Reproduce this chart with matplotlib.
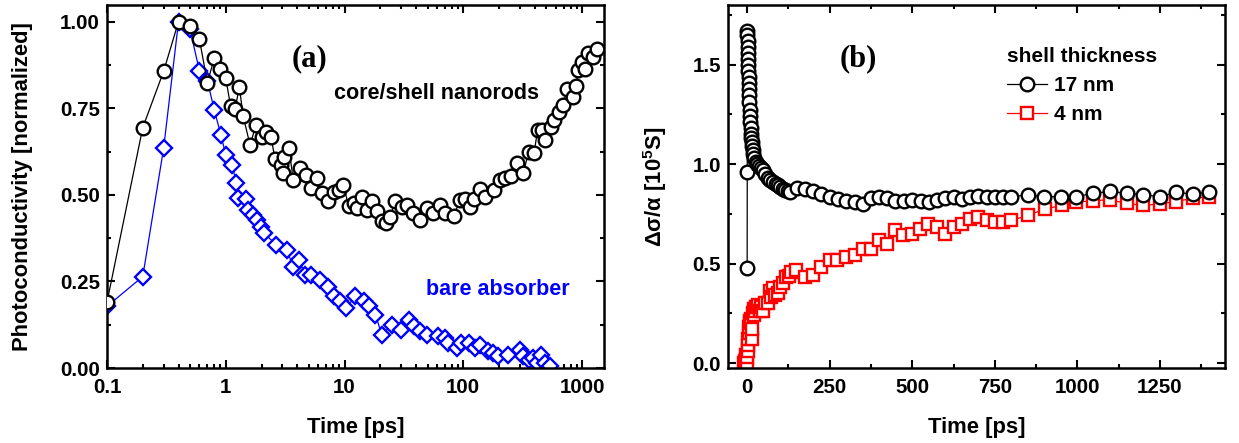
import matplotlib
matplotlib.use("Agg")
import matplotlib.pyplot as plt
from matplotlib.ticker import FixedLocator, MultipleLocator, LogLocator, NullFormatter

plt.rcParams['font.family'] = ['Liberation Sans', 'DejaVu Sans']
plt.rcParams['font.weight'] = 'bold'
plt.rcParams['mathtext.fontset'] = 'custom'
plt.rcParams['mathtext.rm'] = 'Liberation Sans:bold'
plt.rcParams['mathtext.bf'] = 'Liberation Sans:bold'
plt.rcParams['mathtext.default'] = 'bf'

# ---------------- data: panel (a) ----------------
t_core_shell = [0.1, 0.2, 0.3, 0.4, 0.5, 0.6, 0.7, 0.8, 0.9, 1.0, 1.1, 1.2, 1.3, 1.4, 1.6,
                1.8, 2.0, 2.2, 2.4, 2.6, 2.9, 3.05, 3.1, 3.4, 3.7, 4.2, 4.7, 5.2, 5.9, 6.4,
                7.3, 8.1, 8.9, 9.8, 10.8, 11.9, 12.7, 14, 15.4, 17, 18.7, 20.6, 22.4, 24.2,
                26.7, 30.3, 33.5, 38, 43.3, 49.3, 56, 64, 70, 83, 94, 104, 113, 124, 137, 153,
                180, 205, 225, 251, 282, 321, 354, 395, 422, 459, 490, 547, 576, 634, 689,
                750, 838, 894, 924, 995, 1064, 1122, 1232, 1340]
pc_core_shell = [0.19, 0.694, 0.857, 1.0, 0.987, 0.949, 0.824, 0.894, 0.862, 0.836, 0.755,
                 0.748, 0.812, 0.728, 0.644, 0.702, 0.668, 0.682, 0.668, 0.603, 0.586, 0.562,
                 0.61, 0.636, 0.543, 0.577, 0.556, 0.519, 0.548, 0.505, 0.481, 0.509, 0.514,
                 0.529, 0.468, 0.476, 0.461, 0.495, 0.457, 0.481, 0.452, 0.423, 0.42, 0.437,
                 0.481, 0.466, 0.471, 0.447, 0.428, 0.461, 0.447, 0.471, 0.447, 0.439, 0.485,
                 0.488, 0.466, 0.487, 0.516, 0.495, 0.514, 0.543, 0.548, 0.555, 0.591, 0.562,
                 0.625, 0.622, 0.687, 0.687, 0.659, 0.697, 0.716, 0.74, 0.759, 0.805, 0.783,
                 0.814, 0.86, 0.884, 0.862, 0.909, 0.899, 0.92]

t_bare = [0.1, 0.2, 0.3, 0.4, 0.5, 0.6, 0.7, 0.8, 0.91, 1.0, 1.13, 1.23, 1.27, 1.47, 1.55,
          1.7, 1.82, 1.97, 2.1, 2.66, 3.26, 3.7, 4.15, 4.65, 5.2, 6.2, 7.3, 8.1, 9.2, 10.3,
          12.3, 14.5, 16, 18.2, 20.6, 25.1, 29.8, 34.6, 38.3, 43.3, 49.3, 61.8, 70.4, 74.8,
          88.8, 94.8, 111, 126, 139, 163, 179, 197, 240, 300, 321, 354, 386, 418, 452, 490, 540]
pc_bare = [0.178, 0.264, 0.635, 1.0, 0.978, 0.858, 0.83, 0.745, 0.673, 0.615, 0.586, 0.534,
           0.49, 0.487, 0.457, 0.442, 0.428, 0.408, 0.389, 0.356, 0.341, 0.293, 0.312, 0.269,
           0.269, 0.255, 0.235, 0.207, 0.192, 0.173, 0.207, 0.192, 0.178, 0.154, 0.096, 0.125,
           0.11, 0.139, 0.12, 0.106, 0.096, 0.091, 0.087, 0.072, 0.058, 0.072, 0.072, 0.058,
           0.067, 0.048, 0.043, 0.034, 0.038, 0.053, 0.034, 0.024, 0.029, 0.014, 0.038, 0.014,
           0.005]

a_xticks = [0.1, 1, 10, 100, 1000]
a_xticklabels = ['0.1', '1', '10', '100', '1000']
a_yticks = [0.0, 0.25, 0.5, 0.75, 1.0]
a_yticklabels = ['0.00', '0.25', '0.50', '0.75', '1.00']

# ---------------- data: panel (b) ----------------
t_17nm = [0, 0.3, 0.6, 1, 1.5, 2, 2.5, 3, 3.5, 4, 4.5, 5, 5.5, 6, 7, 8, 9, 10, 11, 12, 13,
          14, 15, 17, 19, 22, 26, 30, 36, 42, 48, 55, 63, 70, 78, 86, 93, 100, 108, 116, 124,
          130, 151, 174, 199, 225, 250, 275, 300, 326, 350, 376, 400, 424, 449, 474, 499, 525,
          550, 575, 600, 626, 651, 676, 700, 725, 750, 775, 800, 851, 899, 950, 997, 1048,
          1098, 1149, 1198, 1250, 1298, 1349, 1399]
s_17nm = [0.48, 0.96, 1.67, 1.65, 1.62, 1.59, 1.56, 1.53, 1.50, 1.47, 1.44, 1.41, 1.38, 1.35,
          1.31, 1.27, 1.24, 1.21, 1.18, 1.15, 1.13, 1.11, 1.09, 1.07, 1.05, 1.03, 1.01, 1.0,
          0.99, 0.98, 0.97, 0.95, 0.93, 0.92, 0.91, 0.90, 0.895, 0.885, 0.875, 0.87, 0.865,
          0.86, 0.88, 0.875, 0.865, 0.85, 0.835, 0.825, 0.817, 0.808, 0.80, 0.83, 0.836, 0.83,
          0.817, 0.817, 0.82, 0.817, 0.81, 0.82, 0.828, 0.833, 0.825, 0.833, 0.842, 0.836,
          0.833, 0.833, 0.836, 0.845, 0.836, 0.836, 0.836, 0.853, 0.863, 0.853, 0.847, 0.836,
          0.858, 0.85, 0.858]

t_4nm = [-10, -8, -6, -4, -2, 0, 1, 2, 3, 4, 5, 6, 8, 10, 12, 14, 16, 18, 20, 22, 24, 27, 30,
         34, 38, 43, 48, 55, 63, 68, 73, 78, 85, 93, 100, 108, 119, 127, 134, 149, 174, 199,
         225, 250, 272, 298, 326, 351, 376, 399, 422, 447, 472, 498, 523, 548, 575, 600, 626,
         651, 674, 699, 725, 750, 775, 800, 851, 902, 952, 997, 1048, 1098, 1149, 1198, 1250,
         1298, 1349, 1399]
s_4nm = [0.0, 0.01, 0.0, 0.02, 0.04, 0.0, 0.03, 0.06, 0.09, 0.12, 0.15, 0.18, 0.2, 0.21, 0.22,
         0.12, 0.17, 0.25, 0.24, 0.27, 0.26, 0.28, 0.28, 0.29, 0.26, 0.28, 0.26, 0.3, 0.3, 0.36,
         0.33, 0.375, 0.34, 0.35, 0.38, 0.4, 0.433, 0.44, 0.458, 0.467, 0.433, 0.442, 0.483,
         0.517, 0.517, 0.533, 0.542, 0.575, 0.575, 0.617, 0.6, 0.667, 0.642, 0.65, 0.675, 0.7,
         0.683, 0.65, 0.683, 0.697, 0.725, 0.733, 0.717, 0.708, 0.708, 0.717, 0.742, 0.775,
         0.792, 0.808, 0.817, 0.82, 0.803, 0.792, 0.8, 0.812, 0.828, 0.836]

b_xticks = [0, 250, 500, 750, 1000, 1250]
b_yticks = [0.0, 0.5, 1.0, 1.5]
b_yticklabels = ['0.0', '0.5', '1.0', '1.5']

# ---------------- figure ----------------
fig = plt.figure(figsize=(12.39, 4.43), dpi=100)
axA = fig.add_axes([107/1239, 1 - 368/443, 497/1239, 363/443])
axB = fig.add_axes([728/1239, 1 - 368/443, 497/1239, 363/443])

TICK_FS = 14.8
LABEL_FS = 15.8
NOTE_FS = 15.5

def style(ax):
    for s in ax.spines.values():
        s.set_linewidth(1.8)
    ax.tick_params(which='both', direction='in', top=True, right=True, width=1.5,
                   labelsize=TICK_FS)
    ax.tick_params(which='major', length=5.5)
    ax.tick_params(which='minor', length=3)
    ax.tick_params(axis='x', pad=7.5)
    ax.tick_params(axis='y', pad=5)

# Panel (a)
axA.plot(t_bare, pc_bare, color='#0000ff', lw=0.9, marker='D', ms=8.6, mew=1.7,
         mfc='white', mec='#0000ff', zorder=2)
axA.plot(t_core_shell, pc_core_shell, color='black', lw=0.9, marker='o', ms=9.8, mew=1.7,
         mfc='white', mec='black', zorder=3)
axA.set_xscale('log')
axA.set_xlim(0.1, 1530)
axA.set_ylim(0, 1.048)
axA.xaxis.set_major_locator(FixedLocator(a_xticks))
axA.set_xticklabels(a_xticklabels)
axA.xaxis.set_minor_locator(LogLocator(base=10, subs=range(2, 10)))
axA.xaxis.set_minor_formatter(NullFormatter())
axA.set_yticks(a_yticks)
axA.set_yticklabels(a_yticklabels)
axA.yaxis.set_minor_locator(MultipleLocator(0.125))
style(axA)
axA.set_xlabel('Time [ps]', fontsize=LABEL_FS, fontweight='bold', labelpad=14)
axA.set_ylabel('Photoconductivity [normalized]', fontsize=LABEL_FS, fontweight='bold',
               labelpad=19.5)
axA.text(0.408, 0.852, '(a)', transform=axA.transAxes, ha='center', va='center',
         fontsize=22, fontweight='bold', family='Liberation Serif')
axA.text(0.663, 0.756, 'core/shell nanorods', transform=axA.transAxes, ha='center',
         va='center', fontsize=NOTE_FS, fontweight='bold', color='black')
axA.text(0.786, 0.215, 'bare absorber', transform=axA.transAxes, ha='center',
         va='center', fontsize=NOTE_FS, fontweight='bold', color='#0000ff')

# Panel (b)
axB.plot(t_17nm, s_17nm, color='black', lw=0.9, marker='o', ms=9.8, mew=1.7,
         mfc='white', mec='black', label='17 nm', zorder=3)
axB.plot(t_4nm, s_4nm, color='#ff0000', lw=0.9, marker='s', ms=8.2, mew=1.7,
         mfc='white', mec='#ff0000', label='4 nm', zorder=2)
axB.set_xlim(-58, 1447)
axB.set_ylim(-0.025, 1.8)
axB.set_xticks(b_xticks)
axB.xaxis.set_minor_locator(MultipleLocator(125))
axB.set_yticks(b_yticks)
axB.set_yticklabels(b_yticklabels)
axB.yaxis.set_minor_locator(MultipleLocator(0.25))
style(axB)
axB.set_xlabel('Time [ps]', fontsize=LABEL_FS, fontweight='bold', labelpad=14)
axB.set_ylabel(r'Δσ/α [10$^{5}$S]', fontsize=LABEL_FS, fontweight='bold', labelpad=17)
axB.text(0.262, 0.852, '(b)', transform=axB.transAxes, ha='center', va='center',
         fontsize=22, fontweight='bold', family='Liberation Serif')
leg = axB.legend(loc='upper left', bbox_to_anchor=(0.533, 0.925), frameon=False,
                 title='shell thickness', fontsize=15, title_fontsize=15,
                 handlelength=1.9, handletextpad=0.32, labelspacing=0.48,
                 borderpad=0.2, alignment='left')
leg.get_title().set_fontweight('bold')

fig.savefig('out.png', dpi=100)
